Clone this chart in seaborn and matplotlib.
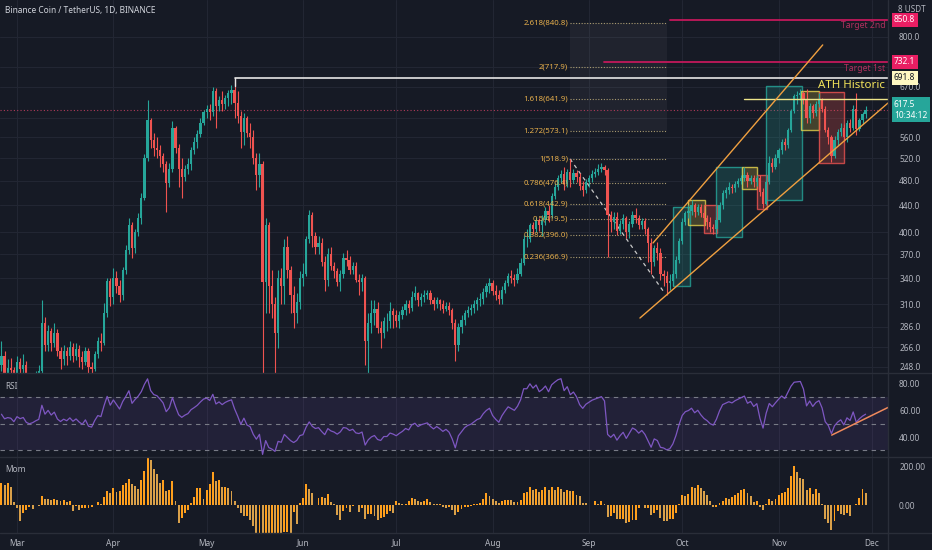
import numpy as np
import pandas as pd
import matplotlib
matplotlib.use("Agg")
import matplotlib.pyplot as plt
import matplotlib.transforms as mtransforms
from matplotlib.patches import Rectangle
from matplotlib.lines import Line2D
from matplotlib.ticker import NullLocator, FixedLocator, FixedFormatter
import seaborn as sns

# ---------------- data (BNB/USDT daily) ----------------
# day index: 0 = 2021-03-01, first candle 2021-02-24 (-5), last 2021-11-29 (273)
first_day = -5
first_open = 250
hist_close = [140, 135, 132, 150, 220, 270, 330, 290, 262, 240]  # Feb 14-23, indicator warm-up only

close_feb = [258, 242, 247, 245, 234]
high_feb = [272, 262, 255, 256, 248]
low_feb = [244, 236, 228, 238, 215]

close_mar = [252, 246, 250, 236, 232, 235, 240, 244, 290, 268, 282, 270, 280, 262, 255, 262,
             258, 266, 258, 264, 257, 252, 262, 248, 246, 260, 272, 270, 300, 336, 318]
high_mar = [258, 256, 260, 253, 240, 238, 244, 250, 314, 296, 288, 285, 290, 284, 266, 268,
            266, 272, 270, 270, 268, 262, 266, 265, 252, 262, 276, 280, 311, 340, 340]
low_mar = [230, 238, 240, 228, 220, 226, 230, 235, 240, 262, 262, 262, 266, 258, 246, 250,
           250, 254, 252, 254, 248, 246, 250, 242, 236, 244, 256, 262, 268, 296, 308]

close_apr = [340, 330, 320, 350, 375, 410, 378, 400, 420, 452, 520, 596, 555, 540, 536,
             524, 510, 476, 500, 580, 540, 500, 486, 500, 510, 536, 550, 566, 590, 612]
high_apr = [352, 348, 338, 354, 382, 420, 415, 405, 428, 460, 528, 640, 600, 568, 560,
            546, 530, 515, 512, 594, 584, 548, 520, 508, 520, 542, 560, 575, 600, 618]
low_apr = [310, 322, 312, 314, 345, 370, 365, 372, 395, 412, 448, 515, 540, 525, 520,
           505, 495, 430, 470, 495, 530, 470, 452, 480, 492, 498, 528, 540, 560, 585]

close_may = [620, 612, 660, 625, 640, 630, 645, 655, 662, 632, 605, 570, 600, 568, 560, 520,
             490, 510, 335, 410, 330, 310, 280, 340, 330, 380, 350, 320, 300, 312, 340]
high_may = [628, 630, 670, 668, 648, 660, 652, 662, 675, 691.8, 660, 615, 610, 605, 590, 575,
            530, 530, 515, 420, 415, 350, 318, 350, 352, 390, 395, 355, 330, 322, 348]
low_may = [600, 596, 605, 580, 615, 615, 620, 625, 630, 600, 590, 540, 545, 560, 540, 510,
           465, 470, 211, 300, 300, 295, 220, 265, 310, 310, 340, 300, 285, 290, 305]

close_jun = [345, 390, 425, 395, 380, 385, 360, 338, 370, 355, 348, 335, 345, 365, 362,
             350, 355, 338, 335, 340, 272, 290, 300, 305, 285, 280, 292, 292, 302, 298]
high_jun = [358, 395, 433, 430, 400, 395, 392, 368, 378, 380, 360, 352, 350, 372, 375,
            368, 360, 360, 345, 345, 342, 300, 315, 315, 312, 292, 296, 300, 312, 306]
low_jun = [330, 342, 385, 380, 370, 370, 355, 325, 330, 350, 340, 330, 325, 340, 355,
           345, 345, 335, 320, 325, 250, 240, 280, 288, 280, 265, 275, 282, 285, 285]

close_jul = [292, 298, 303, 310, 306, 318, 322, 314, 318, 320, 322, 315, 310, 314, 310, 305,
             308, 303, 290, 268, 286, 293, 300, 304, 306, 310, 314, 316, 324, 330, 334]
high_jul = [304, 302, 308, 315, 314, 325, 330, 324, 322, 326, 326, 326, 318, 318, 316, 314,
            312, 312, 306, 294, 290, 298, 304, 308, 310, 314, 318, 322, 328, 334, 340]
low_jul = [286, 285, 294, 298, 300, 302, 314, 308, 308, 312, 316, 310, 304, 306, 304, 300,
           302, 298, 284, 253, 262, 280, 288, 296, 298, 300, 304, 308, 310, 318, 322]

close_aug = [325, 320, 316, 326, 334, 342, 340, 338, 345, 358, 390, 390, 410, 405, 418, 410,
             418, 432, 425, 455, 470, 485, 492, 475, 495, 482, 494, 486, 472, 465, 478]
high_aug = [338, 332, 326, 330, 338, 346, 350, 345, 352, 365, 396, 404, 414, 415, 422, 420,
            425, 438, 440, 460, 476, 490, 498, 505, 500, 518.9, 500, 498, 494, 480, 484]
low_aug = [320, 315, 310, 310, 322, 330, 334, 330, 334, 342, 356, 380, 386, 398, 400, 402,
           395, 410, 415, 420, 450, 465, 476, 465, 470, 470, 476, 478, 465, 455, 460]

close_sep = [485, 492, 496, 500, 504, 498, 425, 415, 422, 402, 412, 420, 400, 412, 425,
             420, 410, 416, 405, 385, 360, 378, 372, 345, 342, 334, 336, 345, 362, 388]
high_sep = [490, 498, 502, 510, 512, 508, 502, 432, 430, 430, 418, 426, 424, 416, 432,
            436, 425, 420, 420, 408, 392, 382, 386, 378, 350, 348, 345, 350, 368, 392]
low_sep = [470, 478, 486, 490, 495, 490, 366, 400, 405, 396, 398, 405, 392, 392, 408,
           414, 404, 404, 398, 360, 345, 355, 362, 338, 330, 320, 326, 330, 340, 358]

close_oct = [415, 428, 432, 440, 430, 438, 428, 420, 415, 408, 405, 418, 440, 460, 465, 470,
             468, 475, 480, 485, 490, 480, 485, 478, 485, 462, 442, 478, 512, 505, 520]
high_oct = [420, 432, 440, 449, 444, 442, 442, 432, 425, 422, 412, 422, 445, 465, 470, 478,
            475, 480, 485, 490, 504, 495, 490, 490, 490, 490, 468, 482, 525, 520, 528]
low_oct = [384, 410, 420, 425, 422, 425, 422, 412, 405, 400, 398, 400, 415, 435, 452, 458,
           460, 462, 470, 474, 480, 470, 474, 470, 472, 455, 436, 440, 475, 495, 500]

close_nov = [535, 550, 545, 575, 615, 648, 652, 655, 640, 600, 625, 610, 630, 640, 620,
             575, 560, 525, 555, 570, 580, 560, 590, 580, 620, 578, 595, 608, 617.5]
high_nov = [540, 556, 558, 580, 620, 654, 660, 664, 660, 665, 632, 630, 638, 655, 645,
            625, 582, 565, 562, 578, 590, 588, 595, 598, 628, 656, 600, 612, 625]
low_nov = [512, 528, 535, 540, 570, 610, 630, 640, 630, 590, 590, 600, 605, 624, 612,
           570, 548, 513, 520, 545, 562, 555, 550, 570, 575, 565, 572, 588, 600]

month_labels = ["Mar", "Apr", "May", "Jun", "Jul", "Aug", "Sep", "Oct", "Nov", "Dec"]
month_days = [0, 31, 61, 92, 122, 153, 184, 214, 245, 275]

price_ticks = [248, 266, 286, 310, 340, 370, 400, 440, 480, 520, 560, 600, 670, 720, 800]
hidden_ticks = [600, 720]

fib_ratios = ["2.618", "2", "1.618", "1.272", "1", "0.786", "0.618", "0.5", "0.382", "0.236"]
fib_prices = [840.8, 717.9, 641.9, 573.1, 518.9, 476.4, 442.9, 419.5, 396.0, 366.9]

# (start day, end day, low, high, kind)
zone_boxes = [
    (211.0, 216.5, 330, 438, "g"), (215.8, 221.3, 411, 449, "y"), (221.0, 225.2, 399, 441, "r"),
    (224.8, 233.2, 393, 504, "g"), (233.2, 238.0, 467, 504, "y"), (238.0, 241.2, 434, 490, "r"),
    (241.0, 252.5, 449, 672, "g"), (252.2, 258.0, 575, 660, "y"), (258.0, 266.0, 511, 658, "r"),
]

ath_price = 691.8
target1, target2 = 732.1, 850.8
last_price = 617.5

# ---------------- build series ----------------
close = (close_feb + close_mar + close_apr + close_may + close_jun + close_jul
         + close_aug + close_sep + close_oct + close_nov)
high = (high_feb + high_mar + high_apr + high_may + high_jun + high_jul
        + high_aug + high_sep + high_oct + high_nov)
low = (low_feb + low_mar + low_apr + low_may + low_jun + low_jul
       + low_aug + low_sep + low_oct + low_nov)
n = len(close)
days = np.arange(first_day, first_day + n)
df = pd.DataFrame({"day": days, "close": close, "high": high, "low": low})
df["open"] = [first_open] + close[:-1]
df["up"] = df["close"] >= df["open"]

full = pd.Series(hist_close + close, dtype=float)
delta = full.diff()
gain = delta.clip(lower=0).ewm(alpha=1 / 14, adjust=False).mean()
loss = (-delta.clip(upper=0)).ewm(alpha=1 / 14, adjust=False).mean()
rsi = 100 - 100 / (1 + gain / loss)
mom = full - full.shift(10)
df["rsi"] = rsi.iloc[len(hist_close):].values
df["mom"] = mom.iloc[len(hist_close):].values

# ---------------- styling ----------------
bg = "#161a25"
grid_c = "#222633"
sep_c = "#2a2e39"
txt_c = "#b2b5be"
up_c, dn_c = "#26a69a", "#ef5350"
fs = 6.0

sns.set_theme(style="dark", rc={"axes.facecolor": bg, "figure.facecolor": bg,
                                "axes.edgecolor": bg, "grid.color": grid_c})
plt.rcParams["font.family"] = ["Noto Sans", "DejaVu Sans"]

W, H = 932, 550
fig = plt.figure(figsize=(W / 100, H / 100), dpi=100)
pw = 888 / W
ax = fig.add_axes([0, 1 - 373 / H, pw, 373 / H])
ax_rsi = fig.add_axes([0, 1 - 457 / H, pw, 83 / H])
ax_mom = fig.add_axes([0, 1 - 533 / H, pw, 75 / H])

x0, x1 = -5.47, 280.2
for a in (ax, ax_rsi, ax_mom):
    a.set_xlim(x0, x1)
    a.set_facecolor(bg)
    for s in a.spines.values():
        s.set_visible(False)
    a.yaxis.tick_right()
    a.tick_params(axis="both", length=0, labelsize=fs, labelcolor=txt_c, pad=8)
    a.set_xticks(month_days)
    for d in month_days:
        a.axvline(d, color=grid_c, lw=0.8, zorder=0)
    a.grid(False)

# ---------------- price pane ----------------
ax.set_yscale("log")
ax.set_ylim(242.7, 912)
ax.yaxis.set_major_locator(FixedLocator(price_ticks))
ax.yaxis.set_major_formatter(FixedFormatter(
    ["" if p in hidden_ticks else f"{p:.1f}" for p in price_ticks]))
ax.yaxis.set_minor_locator(NullLocator())
ax.set_xticklabels([])
for p in price_ticks:
    ax.axhline(p, color=grid_c, lw=0.8, zorder=0)

# fib zone shading and levels
fx0, fx1 = 177.9, 209.2
ax.add_patch(Rectangle((fx0, 573.1), fx1 - fx0, 840.8 - 573.1, color="white", alpha=0.045, lw=0, zorder=1))
for r, p in zip(fib_ratios, fib_prices):
    ax.plot([fx0, fx1], [p, p], color="#a89a70", ls=(0, (1, 1.5)), lw=0.8, zorder=2)
    ax.text(fx0 - 0.6, p, f"{r}({p:.1f})", color="#e8b04c", fontsize=5.6,
            ha="right", va="center", zorder=6)
ax.plot([fx0, 208.4], [518.9, 322], color="#c8c8c8", ls=(0, (3, 3)), lw=0.9, zorder=2)

# last price dotted line
ax.axhline(last_price, color="#b03a5a", ls=(0, (1, 2)), lw=0.8, zorder=1)

# zone boxes
box_style = {"g": ("#26a69a", 0.22), "y": ("#e8d44d", 0.22), "r": ("#ef5350", 0.25)}
for d0, d1, lo, hi, k in zone_boxes:
    c, a_ = box_style[k]
    ax.add_patch(Rectangle((d0, lo), d1 - d0, hi - lo, facecolor=c, alpha=a_, lw=0, zorder=2))
    ax.add_patch(Rectangle((d0, lo), d1 - d0, hi - lo, facecolor="none", edgecolor=c, alpha=0.8, lw=1.0, zorder=3))

# candles
ax.vlines(df["day"], df["low"], df["high"], colors=np.where(df["up"], up_c, dn_c), lw=0.8, zorder=4)
body_lo = df[["open", "close"]].min(axis=1)
body_hi = df[["open", "close"]].max(axis=1)
ax.bar(df["day"], body_hi - body_lo, bottom=body_lo, width=0.72,
       color=np.where(df["up"], up_c, dn_c), lw=0, zorder=5)

# ATH line
ax.plot([70.0, x1], [ath_price, ath_price], color="#e6e6e6", lw=1.2, zorder=6)
ax.plot([70.0, 70.0], [ath_price, 672], color="#e6e6e6", lw=1.0, zorder=6)
ax.plot([233.8, x1], [641.9, 641.9], color="#eee58a", lw=1.0, zorder=6)
ax.text(279.3, 672.3, "ATH Historic", color="#f2e35a", fontsize=8.3, ha="right", va="center", zorder=7)

# targets
ax.plot([188.8, x1], [target1, target1], color="#c2185b", lw=1.3, zorder=6)
ax.plot([210.0, x1], [target2, target2], color="#c2185b", lw=1.3, zorder=6)
ax.text(279.3, 714.1, "Target 1st", color="#b0305e", fontsize=6.2, ha="right", va="center", zorder=7)
ax.text(279.3, 831.9, "Target 2nd", color="#b0305e", fontsize=6.2, ha="right", va="center", zorder=7)

# channel
ax.plot([204.6, 259.2], [385.0, 777.6], color="#f0a040", lw=1.0, zorder=6)
ax.plot([200.4, x1], [295.0, 632.8], color="#f0a040", lw=1.0, zorder=6)

# price scale labels
tr = mtransforms.blended_transform_factory(ax.transAxes, ax.transData)
lx = 1 + 6 / 888
for val, fc, tc in [(target2, "#e91e63", "white"), (target1, "#e91e63", "white"),
                    (ath_price, "#fff8c2", "#131722")]:
    ax.text(lx, val, f"{val:.1f}", transform=tr, ha="left", va="center", fontsize=fs,
            color=tc, clip_on=False, zorder=10,
            bbox=dict(boxstyle="square,pad=0.3", fc=fc, ec="none"))
ax.text(lx, last_price, f"{last_price:.1f}\n10:34:12", transform=tr, ha="left", va="center",
        fontsize=fs, color="white", linespacing=1.3, clip_on=False, zorder=10,
        bbox=dict(boxstyle="square,pad=0.3", fc="#26a69a", ec="none"))

# ---------------- RSI pane ----------------
ax_rsi.set_ylim(25, 87.5)
ax_rsi.set_yticks([40, 60, 80])
ax_rsi.set_yticklabels(["40.00", "60.00", "80.00"])
ax_rsi.set_xticklabels([])
ax_rsi.axhspan(30, 70, color="#7e57c2", alpha=0.12, lw=0, zorder=0)
for lv in (30, 50, 70):
    ax_rsi.axhline(lv, color="#787b86", ls=(0, (4, 4)), lw=0.8, zorder=1)
sns.lineplot(data=df, x="day", y="rsi", ax=ax_rsi, color="#7e57c2", lw=0.9, zorder=3)
ax_rsi.plot([262.1, x1], [41.5, 62.3], color="#f08a5d", lw=1.1, zorder=4)
ax_rsi.set_xlabel("")
ax_rsi.set_ylabel("")
ax_rsi.text(5 / 888, 0.85, "RSI", transform=ax_rsi.transAxes, color=txt_c, fontsize=fs, va="center")

# ---------------- Momentum pane ----------------
ax_mom.set_ylim(-147, 247)
ax_mom.set_yticks([0, 200])
ax_mom.set_yticklabels(["0.00", "200.00"])
mcol = np.where(df["mom"].diff().fillna(0) >= 0, "#ff9f1c", "#d9a04a")
ax_mom.bar(df["day"], df["mom"], width=0.62, color=mcol, lw=0, zorder=3)
ax_mom.set_xticklabels(month_labels, fontsize=fs, color=txt_c, fontweight="bold")
ax_mom.tick_params(axis="x", pad=4)
ax_mom.text(5 / 888, 0.85, "Mom", transform=ax_mom.transAxes, color=txt_c, fontsize=fs, va="center")

# separators
for yy in (373, 457, 533):
    fig.add_artist(Line2D([0, 1], [1 - yy / H] * 2, color=sep_c, lw=1))
fig.add_artist(Line2D([pw, pw], [0, 1], color=sep_c, lw=1))

fig.text(5 / W, 1 - 11 / H, "Binance Coin / TetherUS, 1D, BINANCE", color="#d1d4dc",
         fontsize=6.0, va="center", ha="left")
fig.text(898 / W, 1 - 10 / H, "8 USDT", color=txt_c, fontsize=5.8, va="center", ha="left")

fig.savefig("out.png", dpi=100, facecolor=bg)
